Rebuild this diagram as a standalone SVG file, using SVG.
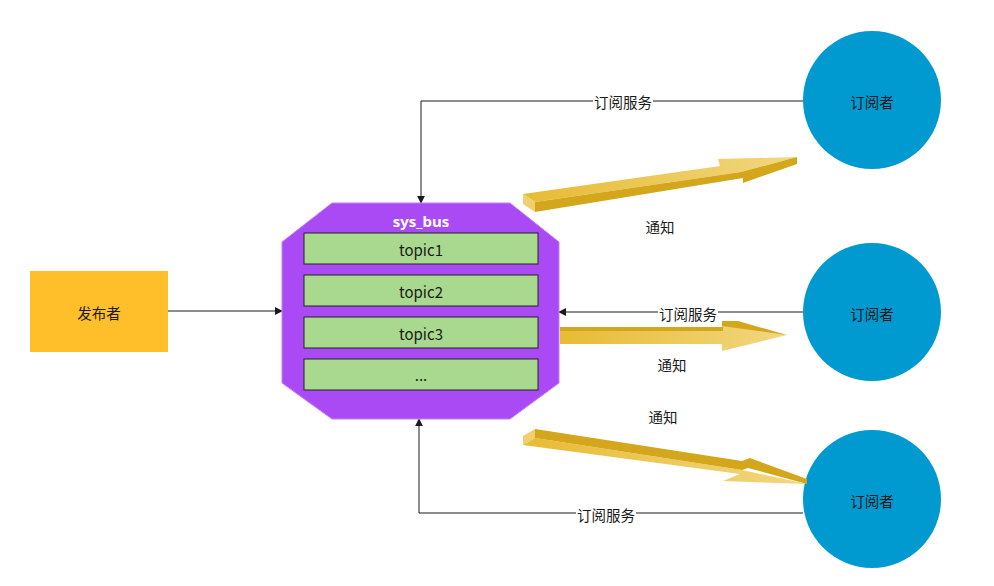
<svg xmlns="http://www.w3.org/2000/svg" width="994" height="586" viewBox="0 0 994 586">
<defs>
<style>
text{font-family:"Noto Sans CJK SC","Liberation Sans",sans-serif;font-size:14.5px;fill:#1a1a1a;text-anchor:middle;dominant-baseline:central}
.conn{fill:none;stroke:#1a1a1a;stroke-width:1}
.topic{fill:#a9d88f;stroke:#222;stroke-width:1}
.tt{font-size:15px}
.lbl{fill:#fff}
.dark{fill:#d4a61c}
.tail{fill:#efd06e}
</style>
<marker id="ah" viewBox="0 0 10 10" refX="9" refY="5" markerWidth="8" markerHeight="8" orient="auto" markerUnits="userSpaceOnUse">
<path d="M0,0 L10,5 L0,10 Z" fill="#1a1a1a"/>
</marker>
<linearGradient id="gy" x1="0" y1="0" x2="1" y2="0">
<stop offset="0" stop-color="#e8bb35"/>
<stop offset="1" stop-color="#f1d780"/>
</linearGradient>
</defs>
<rect width="994" height="586" fill="#fff"/>

<g id="connectors">
<path class="conn" d="M803,101 L421,101 L421,203" marker-end="url(#ah)"/>
<path class="conn" d="M168,311 L282,311" marker-end="url(#ah)"/>
<path class="conn" d="M803,312 L559,312" marker-end="url(#ah)"/>
<path class="conn" d="M803,513 L419,513 L419,419" marker-end="url(#ah)"/>
<rect class="lbl" x="593" y="92" width="60" height="18"/>
<text x="623" y="101">订阅服务</text>
<rect class="lbl" x="658" y="304" width="60" height="18"/>
<text x="688" y="313">订阅服务</text>
<rect class="lbl" x="576" y="505" width="60" height="18"/>
<text x="606" y="514">订阅服务</text>
</g>

<g id="publisher">
<rect x="30" y="271" width="138" height="81" fill="#ffbf2a"/>
<text x="99" y="312">发布者</text>
</g>

<g id="sys_bus">
<polygon points="332,203 510,203 559,242 559,383 510,419 332,419 282,383 282,242" fill="#aa4af5" stroke="#c27ff7" stroke-width="1"/>
<text x="421" y="221" style="fill:#fff;font-weight:bold;font-size:15px;font-family:'Noto Sans','Liberation Sans',sans-serif">sys_bus</text>
<g id="topic1"><rect class="topic" x="304" y="233" width="234" height="31"/><text class="tt" x="421" y="249">topic1</text></g>
<g id="topic2"><rect class="topic" x="304" y="275" width="234" height="31"/><text class="tt" x="421" y="291">topic2</text></g>
<g id="topic3"><rect class="topic" x="304" y="317" width="234" height="31"/><text class="tt" x="421" y="333">topic3</text></g>
<g id="topic_more"><rect class="topic" x="304" y="359" width="234" height="31"/><text class="tt" x="421" y="374">...</text></g>
</g>

<g id="sub1">
<circle cx="872" cy="100" r="69" fill="#0099d0"/>
<text x="872" y="101">订阅者</text>
</g>
<g id="sub2">
<circle cx="872" cy="312" r="69" fill="#0099d0"/>
<text x="872" y="313">订阅者</text>
</g>
<g id="sub3">
<circle cx="872" cy="499" r="69" fill="#0099d0"/>
<text x="872" y="500">订阅者</text>
</g>

<g id="notify1">
<path fill="url(#gy)" d="M523,194 L720,166 L718,159 L797,157 L741,172 L535,202 Z"/>
<path class="dark" d="M535,202 L741,172 L797,157 L797,164 L743,183 L743,178 L535,212 Z"/>
<path class="tail" d="M523,194 L535,202 L535,212 L523,204 Z"/>
<text x="660" y="226">通知</text>
</g>
<g id="notify2">
<path fill="url(#gy)" d="M560,328 L722,328 L722,322 L787,335 L722,351 L722,344 L560,344 Z"/>
<path class="dark" d="M560,327 L723,327 L723,331 L560,331 Z"/>
<path class="dark" d="M722,321 L738,321 L787,335 L722,326 Z"/>
<text x="672" y="364">通知</text>
</g>
<g id="notify3">
<path class="tail" d="M523,436 L535,429 L535,438 L523,445 Z"/>
<path fill="url(#gy)" d="M523,445 L535,438 L742,470 L807,484 L723,481 L740,474 Z"/>
<path class="dark" d="M535,429 L742,461 L750,458 L807,479 L807,484 L748,468 L742,470 L535,438 Z"/>
<text x="663" y="416">通知</text>
</g>
</svg>
